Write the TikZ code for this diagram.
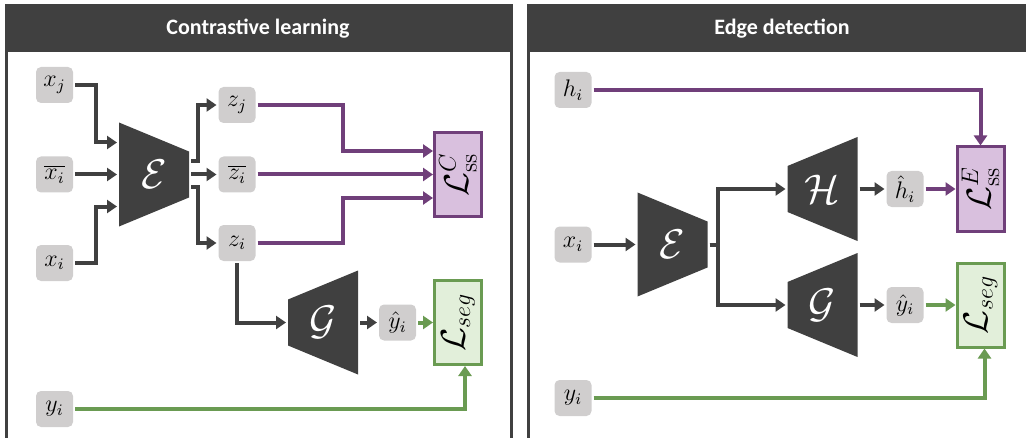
\documentclass[tikz,border=0pt]{standalone}
\usepackage{fontspec}
\newfontfamily\titlefont{Carlito}
\usetikzlibrary{arrows.meta, positioning}
\definecolor{ink}{RGB}{64,64,64}
\definecolor{boxgray}{RGB}{208,206,206}
\definecolor{sspurple}{RGB}{112,63,122}
\definecolor{sspink}{RGB}{217,192,222}
\definecolor{seggreen}{RGB}{106,155,82}
\definecolor{segmint}{RGB}{226,239,218}
\tikzstyle{title}=[text=white, font=\titlefont\bfseries\fontsize{11}{13}\selectfont]
\tikzstyle{panel}=[draw=ink, line width=1.5pt]
\tikzstyle{var}=[fill=boxgray, rounded corners=2.5pt, minimum width=18.5pt, minimum height=18pt, inner sep=0pt, font=\fontsize{12}{14}\selectfont]
\tikzstyle{net}=[minimum width=35pt, minimum height=52pt, inner sep=0pt, text=white, font=\fontsize{22}{26}\selectfont]
\tikzstyle{enc}=[net, path picture={\fill[ink] (path picture bounding box.north west) -- ([yshift=-14.5pt]path picture bounding box.north east) -- ([yshift=14.5pt]path picture bounding box.south east) -- (path picture bounding box.south west) -- cycle;}]
\tikzstyle{dec}=[net, path picture={\fill[ink] ([yshift=-14.5pt]path picture bounding box.north west) -- (path picture bounding box.north east) -- (path picture bounding box.south east) -- ([yshift=14.5pt]path picture bounding box.south west) -- cycle;}]
\tikzstyle{loss}=[line width=1.5pt, minimum width=23.5pt, minimum height=42pt, inner sep=0pt, font=\fontsize{17}{20}\selectfont]
\tikzstyle{ssloss}=[loss, draw=sspurple, fill=sspink]
\tikzstyle{segloss}=[loss, draw=seggreen, fill=segmint]
\tikzstyle{link}=[->, draw=ink]
\tikzstyle{sslink}=[->, draw=sspurple]
\tikzstyle{seglink}=[->, draw=seggreen]

\begin{document}
\begin{tikzpicture}[x=0.5pt, y=-0.5pt, line width=2pt, >={Triangle[length=5pt,width=6.5pt]}]
  \path[use as bounding box, clip] (0,0) rectangle (1026,438);
  % panels
  \draw[panel] (6.5,6) rectangle (511.5,470);
  \fill[ink] (5,5) rectangle (513,52);
  \draw[panel] (528,6) rectangle (1040,470);
  \fill[ink] (526.5,5) rectangle (1030,52);
  \node[title] at (258,29) {Contrastive learning};
  \node[title] at (782,29) {Edge detection};

  % contrastive learning
  \node[var] (xj) at (54.5,85) {$x_j$};
  \node[var] (xbar) at (54.5,174.5) {$\overline{x_i}$};
  \node[var] (xi) at (54.5,263) {$x_i$};
  \node[var] (yi) at (54.5,409) {$y_i$};
  \node[enc] (encL) at (154,174.5) {$\mathcal{E}$};
  \node[var] (zj) at (237,105) {$z_j$};
  \node[var] (zbar) at (237,174.5) {$\overline{z_i}$};
  \node[var] (zi) at (237,243) {$z_i$};
  \node[dec] (decL) at (323,322.5) {$\mathcal{G}$};
  \node[var, right=8.5pt of decL] (yhatL) {$\hat{y}_i$};
  \node[ssloss] (lossC) at (458,174.5) {\rotatebox{90}{$\mathcal{L}^{C}_{\mathrm{ss}}$}};
  \node[segloss] (segL) at (458,322.5) {\rotatebox{90}{$\mathcal{L}_{seg}$}};
  \draw[link] (xj) -| ([xshift=-10.5pt,yshift=16pt]encL.west) -- ([yshift=16pt]encL.west);
  \draw[link] (xbar) -- (encL);
  \draw[link] (xi) -| ([xshift=-10.5pt,yshift=-16pt]encL.west) -- ([yshift=-16pt]encL.west);
  \draw[link] ([yshift=6.5pt]encL.east) -| ([xshift=-9.5pt]zj.west) -- (zj);
  \draw[link] (encL) -- (zbar);
  \draw[link] ([yshift=-6.5pt]encL.east) -| ([xshift=-9.5pt]zi.west) -- (zi);
  \draw[sslink] (zj) -| ([xshift=-45pt,yshift=11.75pt]lossC.west) -- ([yshift=11.75pt]lossC.west);
  \draw[sslink] (zbar) -- (lossC);
  \draw[sslink] (zi) -| ([xshift=-45pt,yshift=-11.75pt]lossC.west) -- ([yshift=-11.75pt]lossC.west);
  \draw[link] (zi) |- (decL);
  \draw[link] (decL) -- (yhatL);
  \draw[seglink] (yhatL) -- (segL);
  \draw[seglink] (yi) -| ([xshift=3.5pt]segL.south);

  % edge detection
  \node[var] (hiR) at (573,90) {$h_i$};
  \node[var] (xiR) at (573,244.5) {$x_i$};
  \node[var] (yiR) at (573,398) {$y_i$};
  \node[enc] (encR) at (672.5,244.5) {$\mathcal{E}$};
  \node[dec] (decH) at (822.5,189) {$\mathcal{H}$};
  \node[dec] (decR) at (822.5,305) {$\mathcal{G}$};
  \node[var, right=12.5pt of decH] (hhat) {$\hat{h}_i$};
  \node[var, right=12.5pt of decR] (yhatR) {$\hat{y}_i$};
  \node[ssloss] (lossE) at (980.5,189) {\rotatebox{90}{$\mathcal{L}^{E}_{\mathrm{ss}}$}};
  \node[segloss] (segR) at (980.5,305) {\rotatebox{90}{$\mathcal{L}_{seg}$}};
  \draw[link] (xiR) -- (encR);
  \draw[link] (encR) -| ([xshift=-34pt]decH.west) -- (decH);
  \draw[link] (encR) -| ([xshift=-34pt]decR.west) -- (decR);
  \draw[link] (decH) -- (hhat);
  \draw[link] (decR) -- (yhatR);
  \draw[sslink] (hhat) -- (lossE);
  \draw[seglink] (yhatR) -- (segR);
  \draw[sslink] (hiR) -| (lossE);
  \draw[seglink] (yiR) -| ([xshift=2pt]segR.south);
\end{tikzpicture}
\end{document}
